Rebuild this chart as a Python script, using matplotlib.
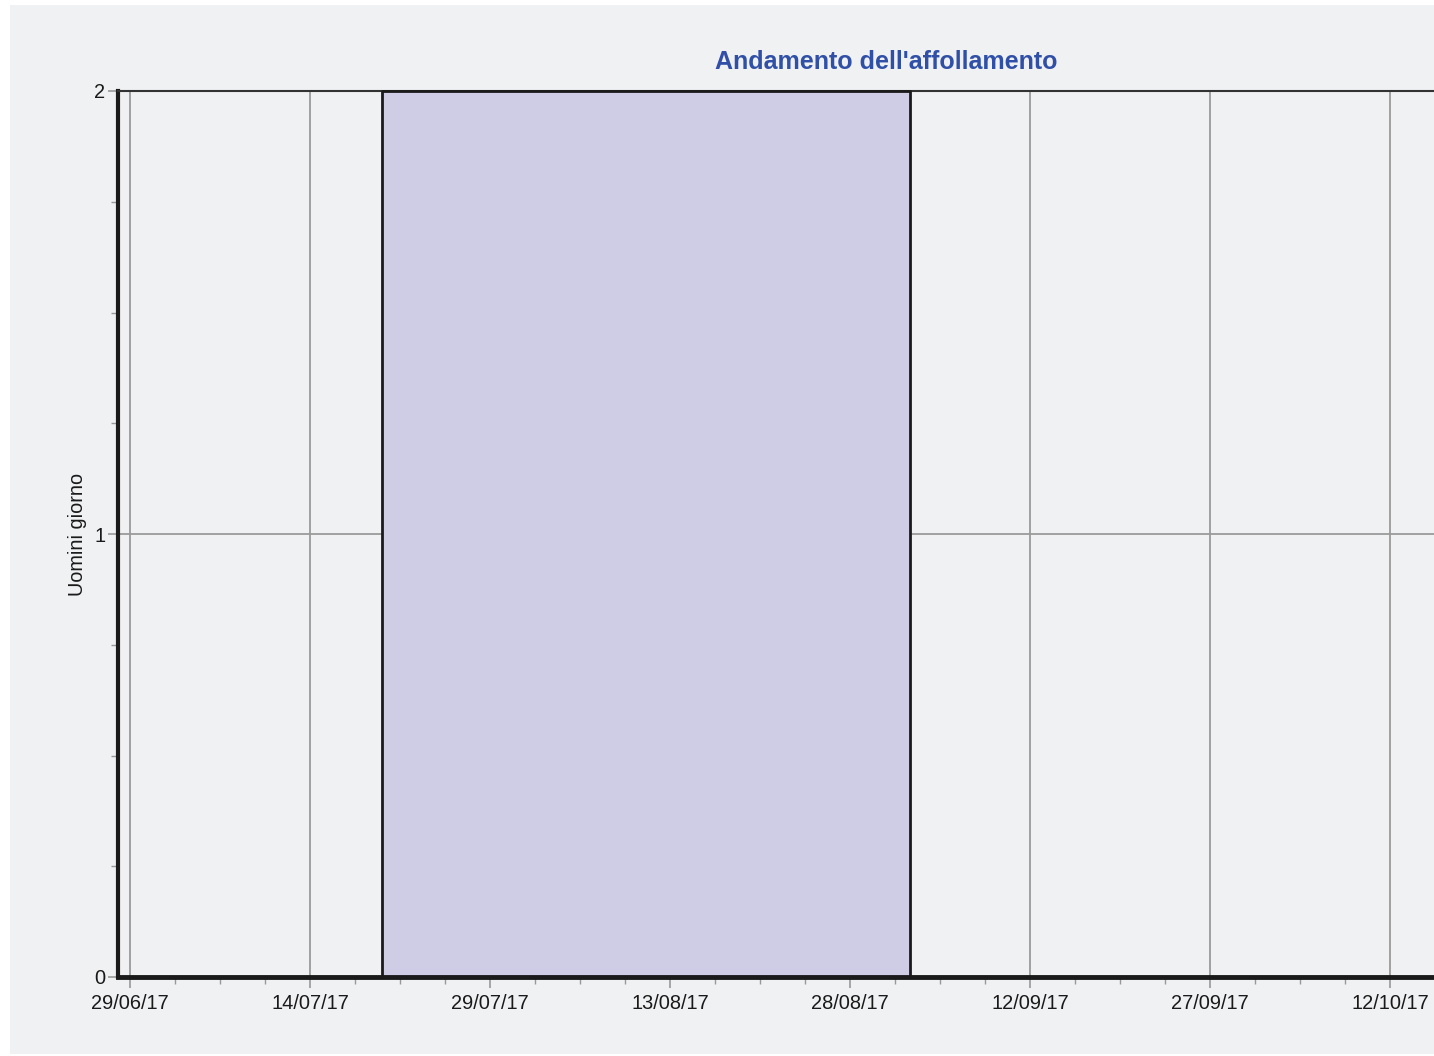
import matplotlib
matplotlib.use("Agg")
import matplotlib.pyplot as plt
import matplotlib.dates as mdates
from matplotlib.patches import Rectangle
import numpy as np
import datetime as dt

plt.rcParams['font.family'] = ['Liberation Sans', 'DejaVu Sans']

# Data
step_dates = ["2017-06-28", "2017-07-20", "2017-09-02", "2017-10-16"]
step_values = [0, 2, 0, 0]
x_start = "2017-06-28"
x_end = "2017-10-15 16:00"
major_ticks = ["2017-06-29", "2017-07-14", "2017-07-29", "2017-08-13",
               "2017-08-28", "2017-09-12", "2017-09-27", "2017-10-12"]
y_ticks = [0, 1, 2]
title = "Andamento dell'affollamento"
ylabel = "Uomini giorno"

W, H = 1434, 1056
fig = plt.figure(figsize=(W / 100, H / 100), dpi=100)
fig.patch.set_facecolor("white")
bg = "#f0f1f3"
fig.patches.append(Rectangle((10 / W, 1 - 1054 / H), 1 - 10 / W, (1054 - 5) / H,
                             transform=fig.transFigure, facecolor=bg,
                             edgecolor="none", zorder=-10))

left, right, top, bottom = 118, 1434, 91, 977
ax = fig.add_axes([left / W, 1 - bottom / H, (right - left) / W, (bottom - top) / H])
ax.set_zorder(1)
ax.set_facecolor(bg)

d = mdates.datestr2num(step_dates)
v = np.array(step_values)
ax.fill_between(d, v, step="post", facecolor="#cecde5", edgecolor="none", zorder=2)
ax.step(d, v, where="post", color="#1a1a1a", lw=2, zorder=3, clip_on=False)

ax.set_xlim(mdates.datestr2num(x_start), mdates.datestr2num(x_end))
ax.set_ylim(0, 2)

mt = mdates.datestr2num(major_ticks)
ax.set_xticks(mt)
ax.set_xticklabels([dt.datetime.strptime(s, "%Y-%m-%d").strftime("%d/%m/%y") for s in major_ticks])
minor = []
for a in mt:
    for k in (1, 2, 3):
        minor.append(a + k * 3.75)
ax.set_xticks([m for m in minor if m < mdates.datestr2num(x_end)], minor=True)
ax.set_yticks(y_ticks)
ax.set_yticks(np.arange(0, 2.01, 0.25), minor=True)

ax.grid(True, which="major", color="#9a9a9a", lw=1.3, zorder=1)
ax.set_axisbelow(True)

ax.tick_params(axis="both", which="major", colors="#999999", labelcolor="#1a1a1a",
               labelsize=14.4, length=8, width=1.2)
ax.tick_params(axis="x", which="major", pad=4)
ax.tick_params(axis="y", which="major", length=7, pad=2)
ax.tick_params(axis="both", which="minor", colors="#999999", length=5, width=1)

for s in ("left", "bottom"):
    ax.spines[s].set_color("#1a1a1a")
    ax.spines[s].set_linewidth(3)
ax.spines["bottom"].set_linewidth(3.5)
ax.spines["top"].set_color("#333333")
ax.spines["top"].set_linewidth(1.5)
ax.spines["right"].set_visible(False)

ax.set_ylabel(ylabel, fontsize=14.3, color="#1a1a1a", labelpad=5)

fig.text(886 / W, 1 - 62 / H, title, ha="center", va="center",
         fontsize=18, fontweight="bold", color="#3050a8")

fig.savefig("out.png", dpi=100, facecolor=fig.get_facecolor())
